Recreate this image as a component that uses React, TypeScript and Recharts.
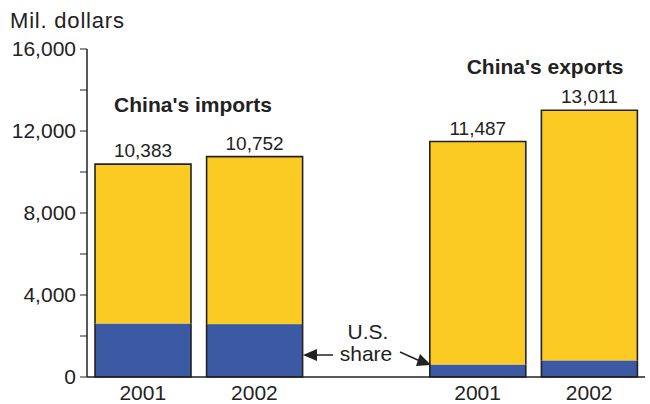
import { BarChart, Bar, XAxis, YAxis, LabelList } from "recharts";

const keys = ["imp2001", "imp2002", "gap", "exp2001", "exp2002"];
const yearLabels = ["2001", "2002", "", "2001", "2002"];
const totals = [10383, 10752, null, 11487, 13011];
const usShare = [2610, 2580, null, 610, 810];
const yTicks = [0, 2000, 4000, 6000, 8000, 10000, 12000, 14000, 16000];

const YELLOW = "#FBCB24";
const BLUE = "#3C5AA4";
const INK = "#222";
const FONT = "'Liberation Sans', Arial, sans-serif";

const data = keys.map((k, i) => ({
  key: k,
  us: usShare[i],
  rest: totals[i] == null ? null : (totals[i] as number) - (usShare[i] as number),
  total: totals[i],
}));

// draws a filled rect and only the outer sides of the stack outline
function segment(top: boolean) {
  return (props: any) => {
    const { x, y, width, height, fill } = props;
    if (!height) return <g />;
    const d = top
      ? `M${x},${y + height} L${x},${y} L${x + width},${y} L${x + width},${y + height}`
      : `M${x},${y} L${x},${y + height} L${x + width},${y + height} L${x + width},${y}`;
    return (
      <g>
        <rect x={x} y={y} width={width} height={height} fill={fill} />
        <path d={d} fill="none" stroke={INK} strokeWidth={1.6} />
      </g>
    );
  };
}

export default function App() {
  return (
    <div style={{ position: "absolute", left: 0, top: 0, width: 650, height: 404, background: "#fff", fontFamily: FONT }}>
      <BarChart
        width={650}
        height={404}
        data={data}
        margin={{ top: 49, right: 5, left: 0, bottom: 0 }}
        barCategoryGap={8}
      >
        <XAxis
          dataKey="key"
          height={27}
          tickFormatter={(_v, i) => yearLabels[i]}
          tickLine={false}
          axisLine={{ stroke: INK, strokeWidth: 1.5 }}
          tick={{ fill: INK, fontSize: 21, fontFamily: FONT }}
          tickMargin={2}
          interval={0}
        />
        <XAxis xAxisId="top" orientation="top" dataKey="key" tick={false} tickLine={false} height={0} axisLine={{ stroke: INK, strokeWidth: 1.5 }} />
        <YAxis
          domain={[0, 16000]}
          ticks={yTicks}
          width={87}
          interval={0}
          tickFormatter={(v) => (v % 4000 === 0 ? v.toLocaleString("en-US") : "")}
          tick={{ fill: INK, fontSize: 21, fontFamily: FONT }}
          tickLine={{ stroke: INK }}
          tickSize={7}
          tickMargin={4}
          axisLine={{ stroke: INK, strokeWidth: 1.5 }}
        />
        <YAxis yAxisId="right" orientation="right" width={0} tick={false} tickLine={false} axisLine={{ stroke: INK, strokeWidth: 1.5 }} />
        <Bar dataKey="us" stackId="a" fill={BLUE} shape={segment(false)} isAnimationActive={false} />
        <Bar dataKey="rest" stackId="a" fill={YELLOW} shape={segment(true)} isAnimationActive={false}>
          <LabelList
            dataKey="total"
            position="top"
            offset={7}
            formatter={(v: any) => (v == null ? "" : Number(v).toLocaleString("en-US"))}
            style={{ fill: INK, fontSize: 19, fontFamily: FONT }}
          />
        </Bar>
      </BarChart>
      <svg width={650} height={404} style={{ position: "absolute", left: 0, top: 0, pointerEvents: "none" }}>
        <text x={10} y={28} fontSize={22} letterSpacing={0.8} fill={INK} fontFamily={FONT}>Mil. dollars</text>
        <text x={193} y={112} fontSize={21} fontWeight="bold" textAnchor="middle" fill={INK} fontFamily={FONT}>China's imports</text>
        <text x={545} y={74} fontSize={21} fontWeight="bold" textAnchor="middle" fill={INK} fontFamily={FONT}>China's exports</text>
        <text x={368} y={339} fontSize={21} textAnchor="middle" fill={INK} fontFamily={FONT}>U.S.</text>
        <text x={366} y={361} fontSize={21} textAnchor="middle" fill={INK} fontFamily={FONT}>share</text>
        <line x1={333} y1={355} x2={314} y2={355} stroke={INK} strokeWidth={1.5} />
        <polygon points="303,355 317,349 317,361" fill={INK} />
        <line x1={400} y1={352} x2={420} y2={361} stroke={INK} strokeWidth={1.5} />
        <polygon points="431,365 416,366 420,354" fill={INK} />
      </svg>
    </div>
  );
}
